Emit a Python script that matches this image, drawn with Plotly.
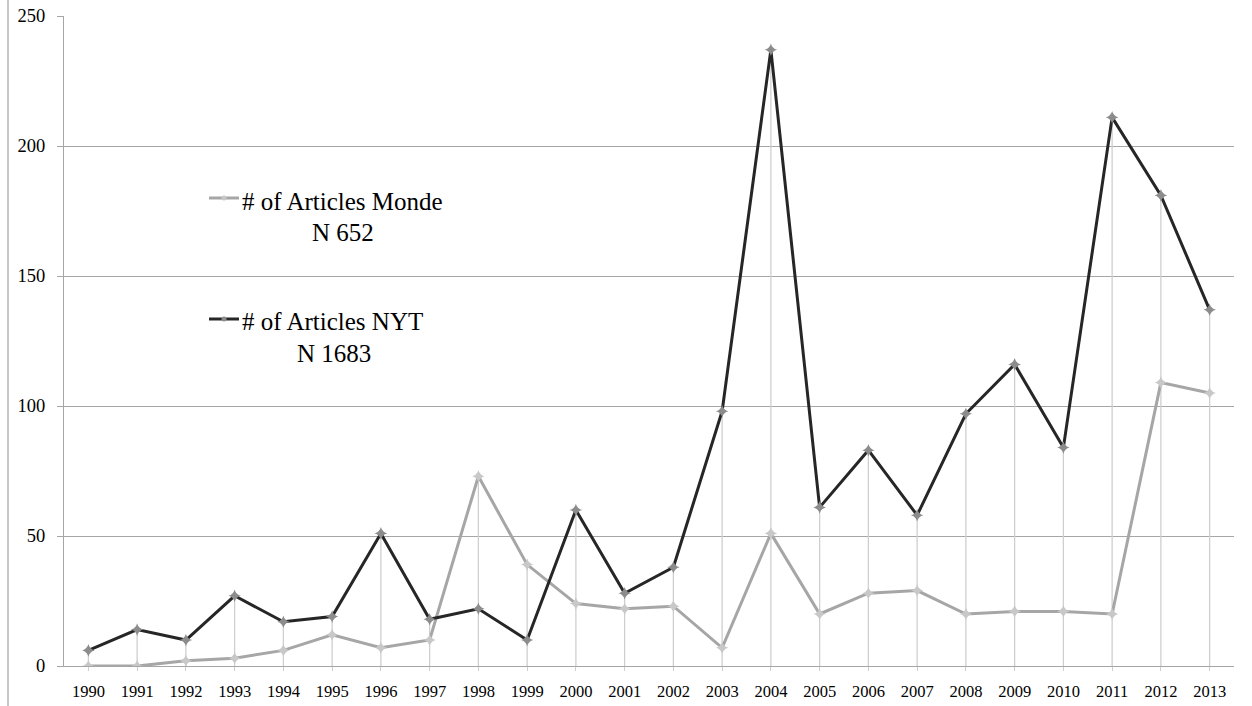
import plotly.graph_objects as go

years = [str(y) for y in range(1990, 2014)]
monde = [0, 0, 2, 3, 6, 12, 7, 10, 73, 39, 24, 22, 23, 7, 51, 20, 28, 29, 20, 21, 21, 20, 109, 105]
nyt = [6, 14, 10, 27, 17, 19, 51, 18, 22, 10, 60, 28, 38, 98, 237, 61, 83, 58, 97, 116, 84, 211, 181, 137]
y_ticks = [0, 50, 100, 150, 200, 250]
legend_monde = ["# of Articles Monde", "N 652"]
legend_nyt = ["# of Articles NYT", "N 1683"]

W, H = 1252, 706
ML, MR, MT, MB = 64, 18, 16, 40
PW, PH = W - ML - MR, H - MT - MB

def px(x):
    return (x - ML) / PW

def py(y):
    return (H - MB - y) / PH

FONT = "'Times New Roman', 'Liberation Serif', 'DejaVu Serif', serif"
MONDE_C = "#a6a6a6"
NYT_C = "#262626"

# drop lines from each year's highest value down to the axis
drop_x, drop_y = [], []
for yr, a, b in zip(years, monde, nyt):
    drop_x += [yr, yr, None]
    drop_y += [0, max(a, b), None]

fig = go.Figure()
fig.add_trace(go.Scatter(x=drop_x, y=drop_y, mode="lines",
                         line=dict(color="#cfcfcf", width=1.3),
                         hoverinfo="skip", showlegend=False))
fig.add_trace(go.Scatter(x=years, y=monde, mode="lines+markers", name="Monde",
                         line=dict(color=MONDE_C, width=3),
                         marker=dict(symbol="star-diamond", size=9, color="#c8c8c8"),
                         showlegend=False))
fig.add_trace(go.Scatter(x=years, y=nyt, mode="lines+markers", name="NYT",
                         line=dict(color=NYT_C, width=3),
                         marker=dict(symbol="star-diamond", size=9, color="#8c8c8c"),
                         showlegend=False))

shapes = [
    # left border line
    dict(type="line", xref="paper", yref="paper", x0=px(8), x1=px(8), y0=py(H), y1=py(0),
         line=dict(color="#aaaaaa", width=1.3)),
    # legend icons
    dict(type="line", xref="paper", yref="paper", x0=px(209), x1=px(239), y0=py(198), y1=py(198),
         line=dict(color=MONDE_C, width=3)),
    dict(type="line", xref="paper", yref="paper", x0=px(209), x1=px(239), y0=py(319), y1=py(319),
         line=dict(color=NYT_C, width=3)),
    dict(type="circle", xref="paper", yref="paper", x0=px(221.5), x1=px(226.5), y0=py(195.5), y1=py(200.5),
         fillcolor="#c8c8c8", line=dict(width=0)),
    dict(type="circle", xref="paper", yref="paper", x0=px(221.5), x1=px(226.5), y0=py(316.5), y1=py(321.5),
         fillcolor="#8c8c8c", line=dict(width=0)),
]

annotations = [
    dict(text=legend_monde[0], x=px(240), y=py(201), xanchor="left", yanchor="middle"),
    dict(text=legend_monde[1], x=px(343), y=py(232), xanchor="center", yanchor="middle"),
    dict(text=legend_nyt[0], x=px(240), y=py(322), xanchor="left", yanchor="middle"),
    dict(text=legend_nyt[1], x=px(334), y=py(353), xanchor="center", yanchor="middle"),
]
for a in annotations:
    a.update(xref="paper", yref="paper", showarrow=False,
             font=dict(family=FONT, size=25, color="#000000"))

fig.update_layout(
    width=W, height=H,
    font=dict(family=FONT),
    margin=dict(l=ML, r=MR, t=MT, b=MB, pad=0, autoexpand=False),
    paper_bgcolor="white", plot_bgcolor="white",
    shapes=shapes, annotations=annotations,
    showlegend=False,
    xaxis=dict(type="category", categoryorder="array", categoryarray=years,
               range=[-0.5, len(years) - 0.5], automargin=False,
               showgrid=False, showline=True, linecolor="#a6a6a6", linewidth=1.3,
               ticks="outside", ticklen=4, tickcolor="#cfcfcf", tickwidth=1.3,
               tickfont=dict(family=FONT, size=16.5, color="#000000"),
               ticklabelstandoff=6, zeroline=False),
    yaxis=dict(range=[0, 250], tickvals=y_ticks, automargin=False,
               showgrid=True, gridcolor="#a6a6a6", gridwidth=1.3,
               showline=True, linecolor="#a6a6a6", linewidth=1.3,
               ticks="outside", ticklen=6, tickcolor="#a6a6a6", tickwidth=1.3,
               tickfont=dict(family=FONT, size=18.5, color="#000000"),
               ticklabelstandoff=8, zeroline=False),
)

fig.write_html("out.html", config={"displayModeBar": False},
               post_script="document.body.style.margin='0';document.body.style.overflow='hidden';")
